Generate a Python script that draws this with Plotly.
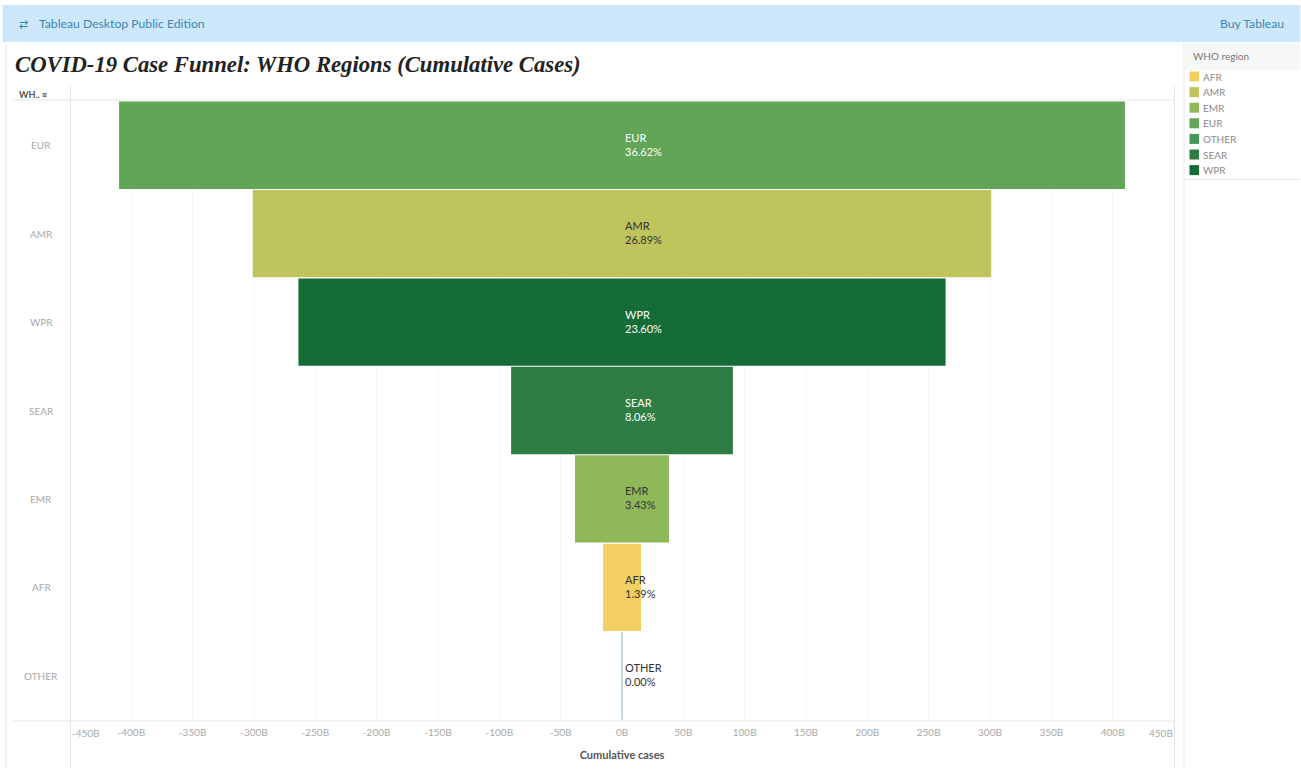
import plotly.graph_objects as go

# Data
regions_alpha = ["AFR", "AMR", "EMR", "EUR", "OTHER", "SEAR", "WPR"]
cases_billion = [15.5, 301, 38.3, 410, 0.6, 90.4, 263.8]
share_labels = ["1.39%", "26.89%", "3.43%", "36.62%", "0.00%", "8.06%", "23.60%"]
colours = ["#f4cf62", "#bfc45c", "#8fb858", "#61a557", "#459658", "#2e7d44", "#166c37"]
label_colours = ["#333333", "#333333", "#333333", "#ffffff", "#333333", "#ffffff", "#ffffff"]
funnel_order = ["EUR", "AMR", "WPR", "SEAR", "EMR", "AFR", "OTHER"]
tick_values = list(range(-450, 451, 50))
tick_labels = [f"{v}B" for v in tick_values]

W, H = 1301, 771
L, R, T, B = 69.5, 1174.5, 101, 720
FONT = "Lato, 'Open Sans', sans-serif"
GREY = "#a8a8a8"
LINE = "#e6e6e6"
BLUE = "#3d86ad"


def px(x):
    return (x - L) / (R - L)


def py(y):
    return (B - y) / (B - T)


fig = go.Figure()
for name, value, colour in zip(regions_alpha, cases_billion, colours):
    fig.add_trace(go.Bar(
        y=[name], x=[2 * value], base=[-value], orientation="h", name=name,
        marker=dict(color=colour, line=dict(width=0), opacity=0.3 if name == "OTHER" else 1),
        hovertemplate=f"{name}: {value}B<extra></extra>", showlegend=False,
    ))

shapes = []
ann = []


def rect(x0, y0, x1, y1, fill, layer="below"):
    shapes.append(dict(type="rect", xref="paper", yref="paper", x0=px(x0), x1=px(x1),
                       y0=py(y0), y1=py(y1), fillcolor=fill, line=dict(width=0), layer=layer))


def line(x0, y0, x1, y1, colour=LINE, width=1):
    shapes.append(dict(type="line", xref="paper", yref="paper", x0=px(x0), x1=px(x1),
                       y0=py(y0), y1=py(y1), line=dict(color=colour, width=width), layer="below"))


def text(x, y, s, size=10, colour=GREY, anchor="left", family=FONT):
    ann.append(dict(xref="paper", yref="paper", x=px(x), y=py(y), text=s, showarrow=False,
                    xanchor=anchor, yanchor="middle", align="left",
                    xshift=-2 if anchor == "left" else 2,
                    font=dict(size=size, color=colour, family=family)))


# Top band
rect(2, 5, W, 42, "#cde8fd")
text(18, 23.5, "⇄", 11, BLUE)
text(38, 23.5, "Tableau Desktop Public Edition", 12.2, BLUE)
text(1285, 23.5, "Buy Tableau", 12.2, BLUE, "right")

# Title
text(14.5, 65, "<b><i>COVID-19 Case Funnel: WHO Regions (Cumulative Cases)</i></b>", 22.7, "#222222",
     family="'Liberation Serif', serif")

# Frame lines
line(5.5, 43, 5.5, 768)
line(70, 86, 70, 768)
line(1175, 86, 1175, 768)
line(1184.5, 43, 1184.5, 768)
line(13, 100, 1175, 100)
line(13, 721, 1175, 721)
text(18, 94, "<b>WH.. ≡</b>", 9, "#555555")

# Row labels, centred in the header column
for name in funnel_order:
    ann.append(dict(xref="paper", yref="y", x=px(41), y=name, text=name, showarrow=False,
                    xanchor="center", xshift=-0.5, font=dict(size=10, color=GREY, family=FONT)))

# Bar labels
for name, share, colour in zip(regions_alpha, share_labels, label_colours):
    ann.append(dict(xref="x", yref="y", x=0, y=name, text=f"{name}<br>{share}", showarrow=False,
                    xanchor="left", xshift=1, yshift=1, align="left",
                    font=dict(size=11, color=colour, family=FONT)))

# End tick labels sit inside the axis range
for value, label, shift in [(tick_values[0], tick_labels[0], 15.5), (tick_values[-1], tick_labels[-1], -13.5)]:
    ann.append(dict(xref="x", yref="paper", x=value, y=py(733), text=label, showarrow=False,
                    xanchor="center", yanchor="middle", xshift=shift,
                    font=dict(size=10, color=GREY, family=FONT)))

# Legend panel
rect(1185, 43, W, 70, "#f7f7f7")
line(1185, 179.5, W, 179.5)
text(1194, 56, "WHO region", 10, "#777777")
for i, (name, colour) in enumerate(zip(regions_alpha, colours)):
    cy = 76.5 + i * 15.6
    rect(1190, cy - 5, 1199.5, cy + 5, colour)
    text(1204, cy, name, 10, "#8a8a8a")

tick_text_axis = [""] + tick_labels[1:-1] + [""]

fig.update_layout(
    width=W, height=H, margin=dict(l=L, r=W - R, t=T, b=H - B),
    paper_bgcolor="white", plot_bgcolor="white", barmode="overlay", bargap=0.012,
    font=dict(family=FONT), shapes=shapes, annotations=ann, showlegend=False,
    xaxis=dict(range=[-450, 450], tickmode="array", tickvals=tick_values, ticktext=tick_text_axis,
               showgrid=True, gridcolor="#f5f5f5", gridwidth=1, zeroline=False, showline=False,
               ticks="", ticklabelstandoff=5, tickfont=dict(size=10, color=GREY, family=FONT),
               title=dict(text="<b>Cumulative cases</b>", standoff=14,
                          font=dict(size=11, color="#555555", family=FONT))),
    yaxis=dict(categoryorder="array", categoryarray=funnel_order, autorange=False,
               range=[6.5, -0.5], showticklabels=False, showgrid=False, zeroline=False, ticks=""),
)

fig.write_html("out.html", post_script="document.body.style.margin='0';",
               config={"displayModeBar": False})
